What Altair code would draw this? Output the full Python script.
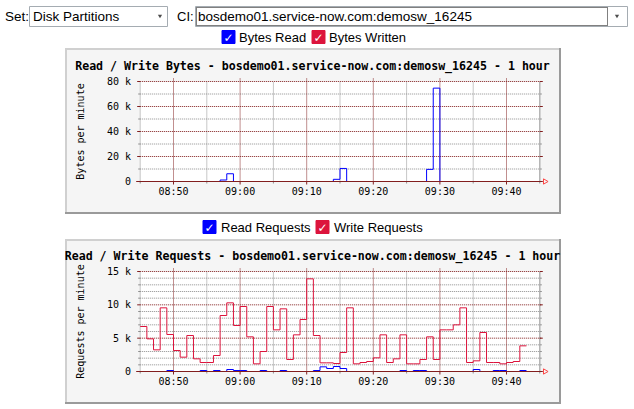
import altair as alt
import pandas as pd

# ---------------- chart values ----------------
start_label = "08:45"          # first sample / left edge of the graphs
end_label = "09:45"            # right edge of the graphs

# one value per minute, starting at 08:45
bytes_read = [0, 0, 0, 0, 0, 0, 0, 0, 0, 0,
              0, 0, 1200, 6200, 0, 0, 0, 0, 0, 0,
              0, 0, 0, 0, 0, 0, 0, 0, 0, 1750,
              10450, 0, 0, 0, 0, 0, 0, 0, 0, 0,
              0, 0, 0, 9700, 74700, 0, 0, 0, 0, 0,
              0, 0, 0, 0, 0, 0, 0, 0]
bytes_written = [0, 0, 0, 0, 0, 0, 0, 0, 0, 0,
                 0, 0, 0, 0, 0, 0, 0, 0, 0, 0,
                 0, 0, 0, 0, 0, 0, 0, 0, 0, 0,
                 0, 0, 0, 0, 0, 0, 0, 0, 0, 0,
                 0, 0, 0, 0, 0, 0, 0, 0, 0, 0,
                 0, 0, 0, 0, 0, 0, 0, 0]
write_requests = [6750, 4900, 3250, 9550, 5550, 3150, 2150, 5400, 1900, 1350,
                  1350, 2400, 8400, 10300, 6900, 9750, 5200, 1150, 3000, 9750,
                  6250, 9400, 1800, 5500, 7800, 13900, 5400, 1300, 1300, 1200,
                  2850, 9550, 1150, 1350, 1500, 2050, 5500, 1350, 1900, 5500,
                  1150, 1150, 1800, 5200, 1800, 6250, 6250, 7000, 9550, 1350,
                  1600, 5850, 1350, 1350, 1150, 1350, 1500, 3850]
read_requests = [0, 0, 0, 0, 150, 0, 0, 0, 0, 150,
                 0, 150, 0, 300, 150, 150, 0, 0, 150, 0,
                 0, 150, 0, 0, 0, 0, 150, 700, 450, 750,
                 450, 0, 0, 0, 0, 0, 0, 0, 0, 150,
                 0, 150, 150, 0, 0, 0, 0, 0, 0, 0,
                 300, 0, 0, 150, 150, 0, 0, 150]

major_time_labels = ["08:50", "09:00", "09:10", "09:20", "09:30", "09:40"]
minor_time_labels = ["08:45", "08:55", "09:05", "09:15", "09:25", "09:35", "09:45"]

bytes_max = 80000
bytes_major = [0, 20000, 40000, 60000, 80000]
bytes_major_labels = ["0", "20 k", "40 k", "60 k", "80 k"]
bytes_minor = [10000, 30000, 50000, 70000]

req_max = 15000
req_major = [0, 5000, 10000, 15000]
req_major_labels = ["0", "5 k", "10 k", "15 k"]
req_minor = [1000, 2000, 3000, 4000, 6000, 7000, 8000, 9000,
             11000, 12000, 13000, 14000]

set_label = "Set:"
set_value = "Disk Partitions"
ci_label = "CI:"
ci_value = "bosdemo01.service-now.com:demosw_16245"
bytes_title = "Read / Write Bytes - bosdemo01.service-now.com:demosw_16245 - 1 hour"
req_title = "Read / Write Requests - bosdemo01.service-now.com:demosw_16245 - 1 hour"
bytes_legend = ["Bytes Read", "Bytes Written"]
req_legend = ["Read Requests", "Write Requests"]

# ---------------- styles ----------------
BLUE = "#0000FF"
RED = "#DC143C"
GRID = "#8F8F8F"
MGRID = "#821E1E"
BACK = "#F5F5F5"
SHADEA = "#D0D0D0"
SHADEB = "#9A9A9A"
MONO = "DejaVu Sans Mono"
UI = "Liberation Sans"


def hm(s):
    h, m = s.split(":")
    return int(h) * 60 + int(m)


T0 = hm(start_label)
T1 = hm(end_label)
SPAN = T1 - T0
one = pd.DataFrame({"k": [0]})

XS = alt.Scale(domain=[0, SPAN], range=[140.2, 539.8], nice=False, zero=False)


def series_df(values):
    # each sample covers one minute; the last one ends one minute later
    m = list(range(len(values))) + [len(values)]
    v = list(values) + [values[-1]]
    return pd.DataFrame({"m": m, "v": v})


def vrule(x0, x1, y, color, width=1, dash=None):
    kw = dict(stroke=color, strokeWidth=width)
    if dash:
        kw["strokeDash"] = dash
    return alt.Chart(one).mark_rule(**kw).encode(
        x=alt.value(x0), x2=alt.value(x1), y=alt.value(y))


def hrule(x, y0, y1, color, width=1):
    return alt.Chart(one).mark_rule(stroke=color, strokeWidth=width).encode(
        x=alt.value(x), y=alt.value(y0), y2=alt.value(y1))


def text_at(x, y, txt, size=13.5, font=UI, align="left", color="black",
            weight="normal", angle=0, baseline="alphabetic"):
    kw = dict(font=font, fontSize=size, align=align, color=color,
              fontWeight=weight, baseline=baseline)
    if angle:
        kw["angle"] = angle
    return alt.Chart(one).mark_text(**kw).encode(
        x=alt.value(x), y=alt.value(y), text=alt.value(txt))


def checkbox(x, y, color):
    box = alt.Chart(one).mark_rect(fill=color, stroke=color).encode(
        x=alt.value(x), x2=alt.value(x + 13), y=alt.value(y), y2=alt.value(y + 13))
    tick = text_at(x + 6.5, y + 7, "\u2713", size=12, font="DejaVu Sans",
                   align="center", color="white", weight="bold", baseline="middle")
    return [box, tick]


def panel(ymax, yrange, major_vals, major_labels, minor_vals, series,
          frame, title, title_y, ytitle, ytitle_y):
    YS = alt.Scale(domain=[0, ymax], range=yrange, nice=False, zero=False)
    fx0, fy0, fx1, fy1 = frame
    L = []
    # image background with 3D shade
    L.append(alt.Chart(one).mark_rect(fill=BACK).encode(
        x=alt.value(fx0), x2=alt.value(fx1), y=alt.value(fy0), y2=alt.value(fy1)))
    L.append(vrule(fx0, fx1, fy0 + 1, SHADEA, 2))
    L.append(hrule(fx0 + 1, fy0, fy1, SHADEA, 2))
    L.append(vrule(fx0, fx1, fy1 - 1, SHADEB, 2))
    L.append(hrule(fx1 - 1, fy0, fy1, SHADEB, 2))
    # canvas
    L.append(alt.Chart(one).mark_rect(fill="white").encode(
        x=alt.XDatum(0, scale=XS, axis=None), x2=alt.X2Datum(SPAN),
        y=alt.YDatum(0, scale=YS, axis=None), y2=alt.Y2Datum(ymax)))

    xm = lambda: alt.X("m:Q", scale=XS, axis=None)
    yv = lambda: alt.Y("v:Q", scale=YS, axis=None)
    minor_t = pd.DataFrame({"m": [hm(t) - T0 for t in minor_time_labels]})
    major_t = pd.DataFrame({"m": [hm(t) - T0 for t in major_time_labels],
                            "label": major_time_labels})
    minor_v = pd.DataFrame({"v": minor_vals})
    major_v = pd.DataFrame({"v": major_vals, "label": major_labels})
    major_v_nz = major_v[major_v["v"] > 0]

    # minor horizontal grid + ticks
    L.append(alt.Chart(minor_v).mark_rule(stroke=GRID, strokeDash=[1, 1]).encode(
        y=yv(), x=alt.XDatum(0, scale=XS, axis=None), x2=alt.X2Datum(SPAN)))
    L.append(alt.Chart(minor_v).mark_rule(stroke=GRID, xOffset=-2, x2Offset=0).encode(
        y=yv(), x=alt.XDatum(0, scale=XS, axis=None), x2=alt.X2Datum(0)))
    L.append(alt.Chart(minor_v).mark_rule(stroke=GRID, x2Offset=2).encode(
        y=yv(), x=alt.XDatum(SPAN, scale=XS, axis=None), x2=alt.X2Datum(SPAN)))
    # minor vertical grid
    L.append(alt.Chart(minor_t).mark_rule(stroke=GRID, strokeDash=[1, 1]).encode(
        x=xm(), y=alt.YDatum(0, scale=YS, axis=None), y2=alt.Y2Datum(ymax)))
    L.append(alt.Chart(minor_t).mark_rule(stroke=GRID, y2Offset=2).encode(
        x=xm(), y=alt.YDatum(0, scale=YS, axis=None), y2=alt.Y2Datum(0)))
    # right frame line
    L.append(alt.Chart(one).mark_rule(stroke="#A8A8A8").encode(
        x=alt.XDatum(SPAN, scale=XS, axis=None),
        y=alt.YDatum(0, scale=YS, axis=None), y2=alt.Y2Datum(ymax)))
    # major horizontal grid + ticks
    L.append(alt.Chart(major_v_nz).mark_rule(stroke=MGRID, strokeDash=[1, 1], x2Offset=2).encode(
        y=yv(), x=alt.XDatum(0, scale=XS, axis=None), x2=alt.X2Datum(SPAN)))
    L.append(alt.Chart(major_v_nz).mark_rule(stroke=MGRID, xOffset=-3).encode(
        y=yv(), x=alt.XDatum(0, scale=XS, axis=None), x2=alt.X2Datum(0)))
    L.append(alt.Chart(major_v_nz).mark_rule(stroke=MGRID, x2Offset=3).encode(
        y=yv(), x=alt.XDatum(SPAN, scale=XS, axis=None), x2=alt.X2Datum(SPAN)))
    # major vertical grid
    L.append(alt.Chart(major_t).mark_rule(stroke=MGRID, strokeDash=[1, 1], y2Offset=-3).encode(
        x=xm(), y=alt.YDatum(0, scale=YS, axis=None), y2=alt.Y2Datum(ymax)))
    L.append(alt.Chart(major_t).mark_rule(stroke=MGRID, y2Offset=3).encode(
        x=xm(), y=alt.YDatum(0, scale=YS, axis=None), y2=alt.Y2Datum(0)))

    # data lines
    for values, color in series:
        L.append(alt.Chart(series_df(values)).mark_line(
            stroke=color, strokeWidth=1, interpolate="step-after").encode(
            x=xm(), y=yv()))

    # x axis line and arrow
    L.append(alt.Chart(one).mark_rule(stroke=MGRID, strokeWidth=1, xOffset=-4, x2Offset=3).encode(
        y=alt.YDatum(0, scale=YS, axis=None),
        x=alt.XDatum(0, scale=XS, axis=None), x2=alt.X2Datum(SPAN)))
    L.append(alt.Chart(one).mark_point(shape="triangle-right", filled=False, stroke="#FF0000",
                                      strokeWidth=1, size=28, xOffset=6).encode(
        y=alt.YDatum(0, scale=YS, axis=None),
        x=alt.XDatum(SPAN, scale=XS, axis=None)))

    # tick labels
    L.append(alt.Chart(major_t).mark_text(font=MONO, fontSize=10, dy=13, align="center",
                                         baseline="alphabetic").encode(
        x=xm(), y=alt.YDatum(0, scale=YS, axis=None), text="label:N"))
    L.append(alt.Chart(major_v).mark_text(font=MONO, fontSize=10, align="right",
                                         baseline="middle", dy=0.5).encode(
        x=alt.value(131), y=yv(), text="label:N"))
    # titles
    L.append(text_at(312.5, title_y, title, size=11.6, font=MONO, align="center", weight="bold"))
    L.append(text_at(81, ytitle_y, ytitle, size=10, font=MONO, align="center",
                     angle=270, baseline="middle"))
    return L


layers = []
# header controls (boxes first, then their texts)
layers.append(alt.Chart(one).mark_rect(fill="white", stroke="#A5ACB2").encode(
    x=alt.value(29.5), x2=alt.value(167.5), y=alt.value(6.5), y2=alt.value(26.5)))
layers.append(alt.Chart(one).mark_rect(fill="white", stroke="#A5ACB2").encode(
    x=alt.value(195.5), x2=alt.value(627.5), y=alt.value(6.5), y2=alt.value(26.5)))
layers.append(alt.Chart(one).mark_rect(fill=None, stroke="black", strokeDash=[1, 1]).encode(
    x=alt.value(196.5), x2=alt.value(607.5), y=alt.value(7.5), y2=alt.value(25.5)))
layers.append(text_at(5, 20.5, set_label))
layers.append(text_at(33, 20.5, set_value))
layers.append(alt.Chart(one).mark_point(shape="triangle-down", filled=True, fill="black",
                                       stroke=None, size=18).encode(
    x=alt.value(160), y=alt.value(16.5)))
layers.append(text_at(177, 20.5, ci_label, size=13))
layers.append(text_at(198, 20.5, ci_value))
layers.append(alt.Chart(one).mark_point(shape="triangle-down", filled=True, fill="black",
                                       stroke=None, size=18).encode(
    x=alt.value(617), y=alt.value(16.5)))

# legends (checkbox rows)
layers += checkbox(222, 30.5, BLUE)
layers.append(text_at(239, 42, bytes_legend[0], size=13))
layers += checkbox(312, 30.5, RED)
layers.append(text_at(329, 42, bytes_legend[1], size=13))
layers += checkbox(203, 220.5, BLUE)
layers.append(text_at(221, 232, req_legend[0], size=13))
layers += checkbox(316, 220.5, RED)
layers.append(text_at(334, 232, req_legend[1], size=13))

layers += panel(bytes_max, [181.5, 81.5], bytes_major, bytes_major_labels, bytes_minor,
                [(bytes_written, RED), (bytes_read, BLUE)],
                (65, 48, 561, 214), bytes_title, 70, "Bytes per minute", 131.5)
layers += panel(req_max, [371.5, 271.5], req_major, req_major_labels, req_minor,
                [(write_requests, RED), (read_requests, BLUE)],
                (65, 239, 561, 404), req_title, 259.5, "Requests per minute", 321.5)

chart = alt.layer(*layers).resolve_scale(x="independent", y="independent").properties(
    width=634, height=409, autosize=alt.AutoSizeParams(type="none"), padding=0,
    background="white"
).configure_view(stroke=None)

chart.save("out.html", embed_options={"renderer": "svg", "actions": False})
